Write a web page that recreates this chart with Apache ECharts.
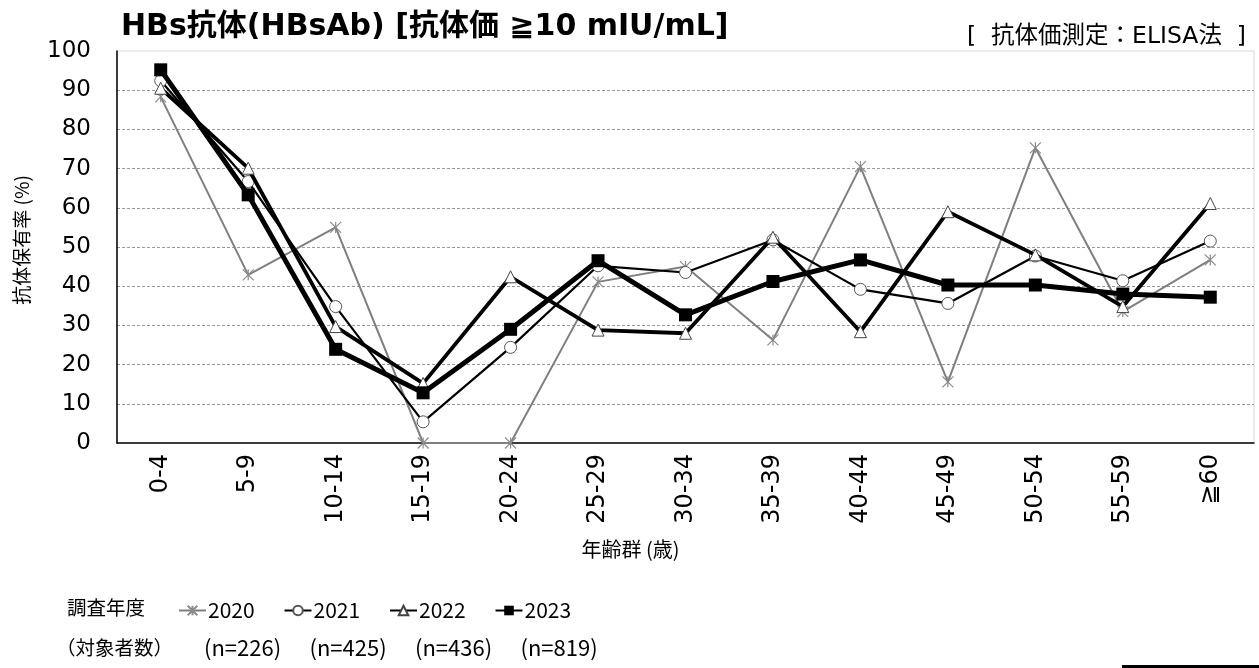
<!DOCTYPE html>
<html>
<head>
<meta charset="utf-8">
<script src="https://cdn.jsdelivr.net/npm/echarts@6/dist/echarts.min.js"></script>
<style>
  html, body { margin: 0; padding: 0; background: #fff; }
  #main { width: 1259px; height: 668px; }
</style>
</head>
<body>
<div id="main"></div>
<script>
// 年齢群
var ageGroups = ['0-4', '5-9', '10-14', '15-19', '20-24', '25-29', '30-34', '35-39', '40-44', '45-49', '50-54', '55-59', '≧60'];
// 調査年度と対象者数
var years = ['2020', '2021', '2022', '2023'];
var subjects = [226, 425, 436, 819];
// 抗体保有率 (%)
var rate2020 = [88.3, 42.9, 55.0, 0, 0, 41.1, 45.0, 26.3, 70.5, 15.6, 75.3, 33.5, 46.7];
var rate2021 = [92.4, 66.7, 34.8, 5.4, 24.4, 45.2, 43.5, 51.8, 39.2, 35.6, 47.7, 41.4, 51.5];
var rate2022 = [90.5, 70.1, 29.7, 15.2, 42.4, 28.8, 28.0, 52.5, 28.4, 59.0, 48.0, 34.8, 61.1];
var rate2023 = [95.2, 63.3, 23.9, 12.8, 29.0, 46.5, 32.7, 41.2, 46.7, 40.3, 40.3, 38.0, 37.2];
var yTicks = [0, 10, 20, 30, 40, 50, 60, 70, 80, 90, 100];

(function(){
  var latin = "'DejaVu Sans', 'Noto Sans CJK JP', sans-serif";
  var cjk = "'Noto Sans CJK JP', 'DejaVu Sans', sans-serif";
  var asterisk = 'path://M0,0L10,10M10,0L0,10M5,0L5,10';
  var slot = 105.5; // 凡例の間隔

  // 100 の線は枠線に任せる
  var splitColors = yTicks.map(function(v){
    return (v === 0 || v === 100) ? 'rgba(0,0,0,0)' : '#9a9a9a';
  });

  var styles = [
    { data: rate2020, color: '#7f7f7f', width: 2, symbol: asterisk, size: 11,
      item: { color: 'rgba(0,0,0,0)', borderColor: '#8c8c8c', borderWidth: 1.2 } },
    { data: rate2021, color: '#000', width: 2.2, symbol: 'circle', size: 12,
      item: { color: '#fff', borderColor: '#555', borderWidth: 1 } },
    { data: rate2022, color: '#000', width: 3.8, symbol: 'triangle', size: 12,
      item: { color: '#fff', borderColor: '#444', borderWidth: 1 } },
    { data: rate2023, color: '#000', width: 5, symbol: 'rect', size: 13,
      item: { color: '#000', borderColor: '#000', borderWidth: 0 } }
  ];

  var series = years.map(function(y, i){
    var s = styles[i];
    return {
      name: y,
      type: 'line',
      data: s.data,
      symbol: s.symbol,
      symbolSize: s.size,
      showAllSymbol: true,
      z: 2 + i,
      lineStyle: { color: s.color, width: s.width },
      itemStyle: s.item,
      emphasis: { disabled: true },
      animation: false
    };
  });

  // 凡例は年度ごとに分けて並べる
  var legends = years.map(function(y, i){
    return {
      data: [y],
      left: 178 + i * slot,
      top: 600,
      padding: 0,
      itemWidth: 27,
      itemHeight: 12,
      itemGap: 0,
      selectedMode: false,
      textStyle: { fontFamily: cjk, fontSize: 21, color: '#000', padding: [0, 0, 0, -3] }
    };
  });

  var graphics = [
    { type: 'text', left: 67, top: 598, style: { text: '調査年度', font: '19.5px ' + cjk, fill: '#000' } },
    { type: 'text', left: 56, top: 638, style: { text: '（対象者数）', font: '19.5px ' + cjk, fill: '#000' } },
    { type: 'rect', shape: { x: 1122, y: 665, width: 137, height: 3 }, style: { fill: '#000' } }
  ];
  subjects.forEach(function(n, i){
    graphics.push({
      type: 'text', left: 204 + i * slot, top: 637,
      style: { text: '(n=' + n + ')', font: '22px ' + cjk, fill: '#000' }
    });
  });

  var chart = echarts.init(document.getElementById('main'), null, { renderer: 'canvas' });
  chart.setOption({
    backgroundColor: '#fff',
    animation: false,
    title: [
      { text: 'HBs抗体(HBsAb) [抗体価 ≧10 mIU/mL]', left: 116, top: 7,
        textStyle: { fontFamily: latin, fontWeight: 'bold', fontSize: 30, color: '#000' } },
      { text: '[  抗体価測定：ELISA法  ]', right: 8, top: 20,
        textStyle: { fontFamily: latin, fontWeight: 'normal', fontSize: 23.5, color: '#000' } }
    ],
    legend: legends,
    grid: {
      left: 117, right: 5, top: 51, bottom: 225,
      show: true, borderColor: '#d9d9d9', borderWidth: 1
    },
    xAxis: {
      type: 'category',
      data: ageGroups,
      boundaryGap: true,
      name: '年齢群 (歳)',
      nameLocation: 'middle',
      nameGap: 96,
      nameTextStyle: { fontFamily: cjk, fontSize: 20, color: '#000', padding: [0, 110, 0, 0] },
      axisLine: { lineStyle: { color: '#000', width: 1.5 } },
      axisTick: { show: false },
      axisLabel: { rotate: 90, margin: 11, fontSize: 24, fontFamily: latin, color: '#000', interval: 0 },
      splitLine: { show: false }
    },
    yAxis: {
      type: 'value',
      min: 0, max: 100, interval: 10,
      name: '抗体保有率 (%)',
      nameLocation: 'middle',
      nameGap: 86,
      nameTextStyle: { fontFamily: cjk, fontSize: 19, color: '#000', padding: [0, 0, 0, 14] },
      axisLine: { show: true, lineStyle: { color: '#000', width: 1.5 } },
      axisTick: { show: false },
      axisLabel: { margin: 26, fontSize: 23, fontFamily: latin, color: '#000' },
      splitLine: { show: true, lineStyle: { type: [3, 2], color: splitColors, width: 1 } }
    },
    graphic: graphics,
    series: series
  });
})()
</script>
</body>
</html>
